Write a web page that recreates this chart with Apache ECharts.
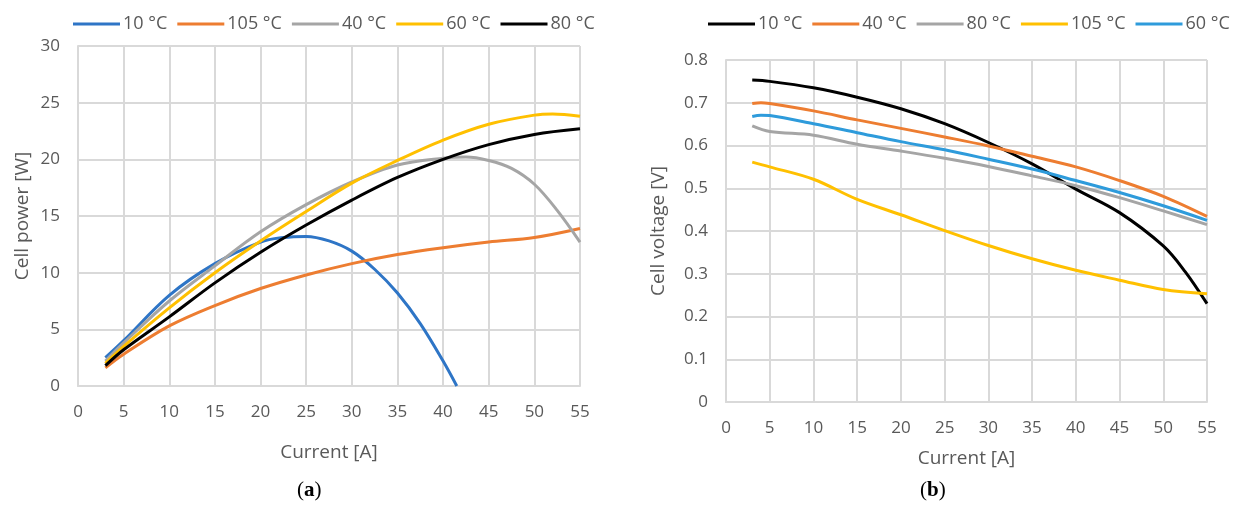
<!DOCTYPE html>
<html>
<head>
<meta charset="utf-8">
<script src="https://cdn.jsdelivr.net/npm/echarts@6/dist/echarts.min.js"></script>
<style>html,body{margin:0;padding:0;background:#fff}#c{width:1237px;height:507px}</style>
</head>
<body>
<div id="c"></div>
<script>
// ---- Data (a): Cell power [W] vs Current [A]
const powX10 = [3,5,10,15,20,22.5,25,27.5,30,32.5,35,37.5,40,41.5];
const pow10  = [2.5,4.0,8.0,10.8,12.7,13.1,13.2,12.8,11.9,10.3,8.2,5.5,2.2,0];
const powX105 = [3,5,10,15,20,25,30,35,40,45,50,55];
const pow105  = [1.6,2.8,5.3,7.1,8.6,9.8,10.8,11.6,12.2,12.7,13.1,13.9];
const powX40 = [3,5,10,15,20,25,30,35,40,42.5,45,47.5,50,52.5,55];
const pow40  = [2.2,3.8,7.5,10.6,13.6,16.0,18.0,19.5,20.1,20.2,19.9,19.2,17.8,15.5,12.7];
const powX60 = [3,5,10,15,20,25,30,35,40,45,50,52,55];
const pow60  = [2.0,3.5,6.9,10.0,12.8,15.4,17.9,19.9,21.7,23.1,23.9,24.0,23.8];
const powX80 = [3,5,10,15,20,25,30,35,40,45,50,55];
const pow80  = [1.8,3.2,6.1,9.1,11.8,14.2,16.4,18.4,20.0,21.3,22.2,22.7];

// ---- Data (b): Cell voltage [V] vs Current [A]
const volX10 = [3,5,10,15,20,25,30,35,40,45,50,52.5,55];
const vol10  = [0.753,0.750,0.735,0.713,0.686,0.651,0.607,0.557,0.498,0.443,0.365,0.305,0.230];
const volX40 = [3,4,5,10,15,20,25,30,35,40,45,50,55];
const vol40  = [0.698,0.700,0.698,0.681,0.660,0.640,0.620,0.599,0.575,0.550,0.518,0.481,0.434];
const volX80 = [3,5,10,15,20,25,30,35,40,45,50,55];
const vol80  = [0.646,0.633,0.624,0.603,0.587,0.570,0.551,0.529,0.506,0.478,0.447,0.415];
const volX105 = [3,5,10,15,20,25,30,35,40,45,50,55];
const vol105  = [0.561,0.550,0.521,0.474,0.438,0.401,0.366,0.335,0.308,0.285,0.263,0.253];
const volX60 = [3,4,5,10,15,20,25,30,35,40,45,50,55];
const vol60  = [0.668,0.671,0.670,0.651,0.630,0.609,0.590,0.568,0.545,0.518,0.490,0.459,0.425];

const legendA = ['10 °C','105 °C','40 °C','60 °C','80 °C'];
const legendB = ['10 °C','40 °C','80 °C','105 °C','60 °C'];

const zip = (xs, ys) => xs.map((x, i) => [x, ys[i]]);
const FONT = '"Open Sans", sans-serif';
const TXT = '#595959';
const GRID = '#d9d9d9';

function mkSeries(name, xs, ys, color, idx) {
  return {
    type: 'line', name: name, xAxisIndex: idx, yAxisIndex: idx,
    data: zip(xs, ys), smooth: 0.35, symbol: 'none',
    lineStyle: { color: color, width: 3 }, itemStyle: { color: color },
    z: 3
  };
}

const xAxisBase = (gi, nameGap) => ({
  type: 'value', gridIndex: gi, min: 0, max: 55, interval: 5,
  name: 'Current [A]', nameLocation: 'middle', nameGap: nameGap,
  nameTextStyle: { color: TXT, fontSize: 19, fontFamily: FONT },
  axisLine: { show: true, lineStyle: { color: GRID, width: 2 } },
  axisTick: { show: false },
  axisLabel: { color: TXT, fontSize: 17, fontFamily: FONT, margin: 18 },
  splitLine: { show: true, lineStyle: { color: GRID, width: 2 } }
});

const legendBase = (names, left) => ({
  data: names,
  left: left, top: 10, icon: 'rect', itemWidth: 47, itemHeight: 3, itemGap: 10,
  formatter: n => n.slice(2),
  textStyle: { color: TXT, fontSize: 18, fontFamily: FONT, padding: [0,0,0,-2] }
});

const captionRich = {
  p: { fontFamily: '"Liberation Serif", serif', fontSize: 21, fill: '#000' },
  b: { fontFamily: '"Liberation Serif", serif', fontSize: 21, fontWeight: 'bold', fill: '#000' }
};

const option = {
  animation: false,
  backgroundColor: '#fff',
  grid: [
    { left: 78, top: 46, width: 502, height: 340 },
    { left: 726, top: 60, width: 481, height: 342 }
  ],
  legend: [
    legendBase(legendA.map(n => 'a:' + n), 68),
    legendBase(legendB.map(n => 'b:' + n), 703)
  ],
  xAxis: [ xAxisBase(0, 57), xAxisBase(1, 47) ],
  yAxis: [
    {
      type: 'value', gridIndex: 0, min: 0, max: 30, interval: 5,
      name: 'Cell power [W]', nameLocation: 'middle', nameGap: 46,
      nameTextStyle: { color: TXT, fontSize: 19, fontFamily: FONT },
      axisLine: { show: true, lineStyle: { color: GRID, width: 2 } },
      axisTick: { show: false },
      axisLabel: { color: TXT, fontSize: 17, fontFamily: FONT, margin: 18 },
      splitLine: { show: true, lineStyle: { color: GRID, width: 2 } }
    },
    {
      type: 'value', gridIndex: 1, min: 0, max: 0.8, interval: 0.1,
      name: 'Cell voltage [V]', nameLocation: 'middle', nameGap: 58,
      nameTextStyle: { color: TXT, fontSize: 19, fontFamily: FONT },
      axisLine: { show: true, lineStyle: { color: GRID, width: 2 } },
      axisTick: { show: false },
      axisLabel: { color: TXT, fontSize: 17, fontFamily: FONT, margin: 18,
        formatter: v => (v === 0 ? '0' : v.toFixed(1)) },
      splitLine: { show: true, lineStyle: { color: GRID, width: 2 } }
    }
  ],
  series: [
    mkSeries('a:10 °C', powX10, pow10, '#2E75C6', 0),
    mkSeries('a:105 °C', powX105, pow105, '#ED7D31', 0),
    mkSeries('a:40 °C', powX40, pow40, '#A5A5A5', 0),
    mkSeries('a:60 °C', powX60, pow60, '#FFC000', 0),
    mkSeries('a:80 °C', powX80, pow80, '#000000', 0),
    mkSeries('b:10 °C', volX10, vol10, '#000000', 1),
    mkSeries('b:40 °C', volX40, vol40, '#ED7D31', 1),
    mkSeries('b:80 °C', volX80, vol80, '#A5A5A5', 1),
    mkSeries('b:105 °C', volX105, vol105, '#FFC000', 1),
    mkSeries('b:60 °C', volX60, vol60, '#2E9BDB', 1)
  ],
  graphic: [
    { type: 'text', left: 297, top: 480, style: { text: '{p|(}{b|a}{p|)}', rich: captionRich } },
    { type: 'text', left: 920, top: 480, style: { text: '{p|(}{b|b}{p|)}', rich: captionRich } }
  ]
};

const chart = echarts.init(document.getElementById('c'), null, { renderer: 'canvas' });
chart.setOption(option);
</script>
</body>
</html>
